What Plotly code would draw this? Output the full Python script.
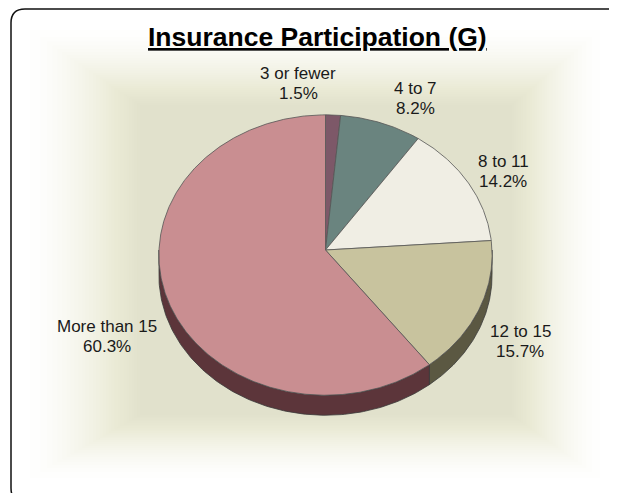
import numpy as np
import plotly.graph_objects as go

# ---- data ----
categories = ["3 or fewer", "4 to 7", "8 to 11", "12 to 15", "More than 15"]
values = [1.5, 8.2, 14.2, 15.7, 60.3]
pct_labels = ["1.5%", "8.2%", "14.2%", "15.7%", "60.3%"]

# ---- styles ----
top_colors = ["#7d5868", "#6a847f", "#f0eee4", "#c8c39e", "#c98e91"]
side_colors = ["#4f3540", "#3f5350", "#8e8c80", "#5b5842", "#5c353a"]
label_pos = [(298, 83), (415, 98), (503, 171), (520, 341), (107, 336)]

# page has an 8px body margin: the visible window is 617x493 starting at 8,8
OFF = 8
W, H = 617, 493
CX, CY = 325.5, 250.0          # projected pie centre (px, reference coords)
A, B, K = 166.5, 140.0, 0.036  # semi axes + perspective factor
DEPTH = 20
FONT = "Arial, Liberation Sans, sans-serif"


def proj(theta_deg):
    t = np.radians(theta_deg)
    u, v = np.sin(t), np.cos(t)
    w = 1 + K * v
    return CX + A * u / w, CY - B * v / w


total = float(sum(values))
bounds = np.concatenate([[0.0], np.cumsum(values)]) / total * 360.0

fig = go.Figure()

# side walls (front half only)
for i, cat in enumerate(categories):
    a0, a1 = max(bounds[i], 90.0), min(bounds[i + 1], 270.0)
    if a1 <= a0:
        continue
    th = np.linspace(a0, a1, 120)
    xs, ys = proj(th)
    px = np.concatenate([xs, xs[::-1], xs[:1]])
    py = np.concatenate([ys, ys[::-1] + DEPTH, ys[:1]])
    fig.add_trace(go.Scatter(x=px, y=py, mode="lines", fill="toself",
                             fillcolor=side_colors[i],
                             line=dict(color="#3a3a3a", width=0.8),
                             hoverinfo="skip", showlegend=False))

# top faces
for i, cat in enumerate(categories):
    th = np.linspace(bounds[i], bounds[i + 1], max(8, int((bounds[i + 1] - bounds[i]) * 2)))
    xs, ys = proj(th)
    px = np.concatenate([[CX], xs, [CX]])
    py = np.concatenate([[CY], ys, [CY]])
    fig.add_trace(go.Scatter(x=px, y=py, mode="lines", fill="toself",
                             fillcolor=top_colors[i],
                             line=dict(color="#555555", width=0.8),
                             name=cat, text=f"{cat}: {pct_labels[i]}",
                             hoverinfo="text", showlegend=False))

# labels (two lines each)
for i, cat in enumerate(categories):
    x, y = label_pos[i]
    for txt, dy in ((cat, -10), (pct_labels[i], 10)):
        fig.add_annotation(x=x, y=y + dy, xref="x", yref="y", showarrow=False,
                           text=txt, font=dict(family=FONT, size=17, color="#1a1a1a"),
                           align="center", xanchor="center", yanchor="middle")

# title
fig.add_annotation(x=317, y=37, xref="x", yref="y", showarrow=False,
                   text="<b><u>Insurance Participation (G)</u></b>",
                   font=dict(family=FONT, size=26.5, color="#000000"),
                   xanchor="center", yanchor="middle")

# background glow (soft rectangular halo)
shapes = []
N = 30
outer = (30, 30, 600, 478)
inner = (140, 105, 512, 415)
for j in range(N):
    s = (j / (N - 1)) ** 0.7
    x0 = outer[0] + s * (inner[0] - outer[0])
    y0 = outer[1] + s * (inner[1] - outer[1])
    x1 = outer[2] + s * (inner[2] - outer[2])
    y1 = outer[3] + s * (inner[3] - outer[3])
    shapes.append(dict(type="rect", xref="x", yref="y", x0=x0, y0=y0, x1=x1, y1=y1,
                       fillcolor="rgba(212,209,186,0.024)", line=dict(width=0), layer="below"))

# rounded frame
r = 14
bx0, by0, bx1, by1 = 11, 9, 626, 502
path = (f"M {bx0+r},{by0} L {bx1-r},{by0} Q {bx1},{by0} {bx1},{by0+r} "
        f"L {bx1},{by1-r} Q {bx1},{by1} {bx1-r},{by1} L {bx0+r},{by1} "
        f"Q {bx0},{by1} {bx0},{by1-r} L {bx0},{by0+r} Q {bx0},{by0} {bx0+r},{by0} Z")
shapes.append(dict(type="path", xref="x", yref="y", path=path,
                   line=dict(color="#111111", width=1.5), layer="above"))

fig.update_layout(
    width=W - OFF, height=H - OFF, autosize=False,
    margin=dict(l=0, r=0, t=0, b=0),
    paper_bgcolor="white", plot_bgcolor="white",
    xaxis=dict(range=[OFF, W], visible=False, fixedrange=True),
    yaxis=dict(range=[H, OFF], visible=False, fixedrange=True),
    shapes=shapes,
    showlegend=False,
)

fig.write_html("out.html")
